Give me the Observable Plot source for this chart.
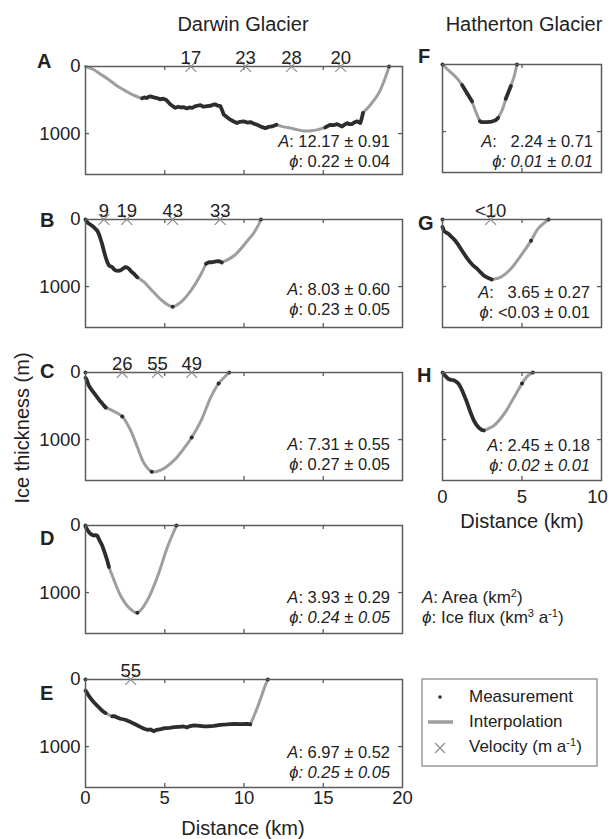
<!DOCTYPE html>
<html><head><meta charset="utf-8">
<script src="https://cdn.jsdelivr.net/npm/d3@7"></script>
<script src="https://cdn.jsdelivr.net/npm/@observablehq/plot@0.6"></script>
<style>
body{margin:0;background:#fff;}
#root{position:relative;width:608px;height:839px;overflow:hidden;background:#fff;font-family:"Liberation Sans",Arial,sans-serif;}
.pn{position:absolute;}
.pn svg{overflow:visible;background:transparent;}
</style></head><body><div id="root"></div>
<script>
// ---------- data (distance km, ice thickness m) ----------
// kind: "m" = measurement (dense radar), "i" = interpolation
const profileA = [
  {kind:"i", pts:[[0,0],[0.5,45],[0.95,115],[1.5,200],[2.0,290],[2.5,360],[3.06,430],[3.57,475]]},
  {kind:"m", pts:[[3.57,475],[3.7,460],[3.85,470],[3.95,455],[4.1,445],[4.3,460],[4.5,470],[4.73,490],[4.9,480],[5.1,500],[5.36,566],[5.5,590],[5.67,616],[5.85,600],[6.0,610],[6.2,606],[6.4,625],[6.55,610],[6.73,616],[6.9,595],[7.05,585],[7.25,576],[7.45,600],[7.67,591],[7.9,585],[8.05,570],[8.2,566],[8.35,585],[8.51,591],[8.6,640],[8.72,717],[8.9,750],[9.14,793],[9.35,820],[9.56,843],[9.75,825],[9.98,818],[10.2,835],[10.4,828],[10.6,850],[10.83,869],[11.1,900],[11.35,919],[11.55,900],[11.77,894],[12.04,869]]},
  {kind:"i", pts:[[12.04,869],[12.5,900],[12.93,919],[13.4,945],[13.76,960],[14.2,958],[14.6,945],[15.13,909]]},
  {kind:"m", pts:[[15.13,909],[15.3,885],[15.45,869],[15.65,875],[15.87,859],[16.05,880],[16.19,894],[16.35,865],[16.5,843],[16.65,860],[16.82,859],[16.95,835],[17.13,818],[17.25,830],[17.34,843],[17.42,780],[17.51,692]]},
  {kind:"i", pts:[[17.51,692],[17.8,620],[18.0,565],[18.46,415],[18.88,190],[19.15,0]]}
];
const dotsA = [[19.15,0]];
const velKmA = [6.65,10.1,13.0,16.1];
const velA = ["17","23","28","20"];

const profileB = [
  {kind:"m", pts:[[0.06,25],[0.15,50],[0.3,75],[0.45,100],[0.63,140],[0.75,170],[0.84,215],[0.95,290],[1.05,365],[1.15,460],[1.27,560],[1.38,640],[1.48,685],[1.6,700],[1.69,710],[1.8,745],[1.9,760],[2.05,765],[2.2,760],[2.35,735],[2.5,710],[2.62,715],[2.74,735],[2.9,780],[3.06,810],[3.17,840],[3.27,860]]},
  {kind:"i", pts:[[3.27,860],[3.7,935],[4.3,1085],[4.96,1235],[5.5,1300],[6.0,1235],[6.65,1060],[7.3,810],[7.6,660]]},
  {kind:"m", pts:[[7.6,660],[7.8,635],[7.95,640],[8.1,630],[8.25,625],[8.4,620],[8.6,640]]},
  {kind:"i", pts:[[8.6,640],[9.39,537],[10.23,313],[10.65,190],[11.07,0]]}
];
const dotsB = [[0,0],[5.5,1300],[11.07,0]];
const velKmB = [1.16,2.6,5.5,8.5];
const velB = ["9","19","43","33"];

const profileC = [
  {kind:"m", pts:[[0,80],[0.06,100],[0.2,190],[0.3,230],[0.42,270],[0.58,320],[0.74,370],[0.9,420],[1.05,460],[1.15,490],[1.27,520]]},
  {kind:"i", pts:[[1.27,520],[1.8,580],[2.32,655],[2.85,865],[3.27,1110],[3.7,1355],[4.18,1480],[4.75,1455],[5.6,1305],[6.2,1135],[6.7,970],[7.3,715],[7.9,370],[8.4,165],[9.07,0]]}
];
const dotsC = [[0,0],[1.27,520],[2.32,655],[4.18,1480],[6.7,970],[8.4,165],[9.07,0]];
const velKmC = [2.32,4.54,6.7];
const velC = ["26","55","49"];

const profileD = [
  {kind:"m", pts:[[0,15],[0.08,50],[0.15,75],[0.25,110],[0.32,125],[0.42,140],[0.53,150],[0.64,145],[0.74,150],[0.84,200],[0.95,250],[1.05,295],[1.16,370],[1.27,445],[1.38,530],[1.48,620]]},
  {kind:"i", pts:[[1.48,620],[1.8,815],[2.2,1040],[2.74,1225],[3.27,1300],[3.9,1115],[4.54,765],[5.17,320],[5.74,0]]}
];
const dotsD = [[0,0],[3.27,1300],[5.74,0]];
const velKmD = [];
const velD = [];

const profileE = [
  {kind:"m", pts:[[0,165],[0.1,200],[0.2,240],[0.35,290],[0.53,340],[0.75,395],[0.95,440],[1.1,475],[1.27,500]]},
  {kind:"i", pts:[[1.27,500],[1.5,530],[1.69,550]]},
  {kind:"m", pts:[[1.69,550],[1.8,545],[2.0,565],[2.2,585],[2.5,600],[2.85,635],[3.2,675],[3.48,710],[3.7,735],[3.9,750],[4.1,745],[4.3,770],[4.5,750],[4.75,740],[5.0,725],[5.3,720],[5.6,710],[5.9,705],[6.2,700],[6.4,715],[6.6,695],[6.85,685],[7.2,690],[7.5,700],[7.7,700],[8.1,690],[8.5,675],[8.9,670],[9.4,660],[9.8,665],[10.2,660],[10.4,670]]},
  {kind:"i", pts:[[10.4,670],[10.6,560],[10.85,415],[11.1,250],[11.3,115],[11.5,0]]}
];
const dotsE = [[0,0],[11.5,0]];
const velKmE = [2.85];
const velE = ["55"];

const profileF = [
  {kind:"i", pts:[[0,0],[0.35,80],[0.7,155],[1.0,230],[1.23,305]]},
  {kind:"m", pts:[[1.23,305],[1.45,390],[1.65,470],[1.86,550]]},
  {kind:"i", pts:[[1.86,550],[2.08,695],[2.35,845]]},
  {kind:"m", pts:[[2.35,845],[2.45,860],[2.8,860],[3.1,850],[3.35,830],[3.5,795]]},
  {kind:"i", pts:[[3.5,795],[3.77,670],[3.98,510]]},
  {kind:"m", pts:[[3.98,510],[4.15,410],[4.3,320]]},
  {kind:"i", pts:[[4.3,320],[4.5,180],[4.68,0]]}
];
const dotsF = [[0,0],[4.68,0]];
const velKmF = [];
const velF = [];

const profileG = [
  {kind:"m", pts:[[0,110],[0.1,175],[0.2,190],[0.38,215],[0.6,265],[0.8,315],[1.0,380],[1.23,465],[1.45,545],[1.65,610],[1.9,680],[2.18,735],[2.4,790],[2.6,835],[2.85,870],[3.1,895]]},
  {kind:"i", pts:[[3.1,895],[3.67,860],[4.3,735],[4.94,535],[5.57,315],[6.0,140],[6.67,0]]}
];
const dotsG = [[0,0],[5.57,315],[6.67,0]];
const velKmG = [3.03];
const velG = ["<10"];

const profileH = [
  {kind:"m", pts:[[0,0],[0.17,50],[0.38,100],[0.55,110],[0.7,115],[0.85,135],[1.02,170],[1.18,240],[1.33,320],[1.5,420],[1.65,520],[1.8,620],[1.97,715],[2.13,780],[2.29,825],[2.45,855],[2.6,865]]},
  {kind:"i", pts:[[2.6,865],[3.24,790],[3.88,615],[4.5,370],[5.0,165],[5.36,50],[5.68,0]]}
];
const dotsH = [[5.0,165],[5.68,0]];
const velKmH = [];
const velH = [];

const panelLetters = ["A","B","C","D","E","F","G","H"];
const areaText = ["12.17 ± 0.91","8.03 ± 0.60","7.31 ± 0.55","3.93 ± 0.29","6.97 ± 0.52","  2.24 ± 0.71","  3.65 ± 0.27","2.45 ± 0.18"];
const fluxText = ["0.22 ± 0.04","0.23 ± 0.05","0.27 ± 0.05","0.24 ± 0.05","0.25 ± 0.05","0.01 ± 0.01","<0.03 ± 0.01","0.02 ± 0.01"];
const fluxItalic = [false,false,false,true,true,true,false,true];
const yTickLabels = [0,1000];
const xTicksDarwin = [0,5,10,15,20];
const xTicksHatherton = [0,5];
const xTicksHathertonEnd = [10];

// ---------- layout ----------
const FONT = '"Liberation Sans", Arial, sans-serif';
const INNER_H = 108;
const LEFT = {svgLeft:25, mL:60, mR:8, frameW:317, xMax:20, inner:[5,10,15]};
const RIGHT = {svgLeft:430, mL:12, mR:7, frameW:159, xMax:10, inner:[5]};
const panels = [
  {col:LEFT, top:65.7, prof:profileA, dots:dotsA, vk:velKmA, vl:velA, yLab:true},
  {col:LEFT, top:219, prof:profileB, dots:dotsB, vk:velKmB, vl:velB, yLab:true},
  {col:LEFT, top:371.7, prof:profileC, dots:dotsC, vk:velKmC, vl:velC, yLab:true},
  {col:LEFT, top:525, prof:profileD, dots:dotsD, vk:velKmD, vl:velD, yLab:true},
  {col:LEFT, top:679, prof:profileE, dots:dotsE, vk:velKmE, vl:velE, yLab:true, xTicks:xTicksDarwin, xPad:3},
  {col:RIGHT, top:64.3, prof:profileF, dots:dotsF, vk:velKmF, vl:velF, yLab:false},
  {col:RIGHT, top:219, prof:profileG, dots:dotsG, vk:velKmG, vl:velG, yLab:false},
  {col:RIGHT, top:371.7, prof:profileH, dots:dotsH, vk:velKmH, vl:velH, yLab:false, xTicks:xTicksHatherton, xTicksEnd:xTicksHathertonEnd, xPad:9.5}
];

const root = document.getElementById("root");
const FRAME = "#5c5c5c";

panels.forEach(p => {
  const c = p.col;
  const mT = 30, mB = p.xTicks ? 30 : 4;
  const width = c.mL + c.frameW + c.mR;
  const data = [];
  p.prof.forEach((s, i) => s.pts.forEach(([x, y]) => data.push({x, y, seg: i, kind: s.kind})));
  const vel = p.vk.map((k, i) => ({km: k, label: p.vl[i]}));
  const marks = [
    Plot.line(data.filter(d => d.kind === "i"), {x:"x", y:"y", z:"seg", stroke:"#9e9e9e", strokeWidth:3, curve:"catmull-rom"}),
    Plot.line(data.filter(d => d.kind === "m"), {x:"x", y:"y", z:"seg", stroke:"#2d2d2d", strokeWidth:3.8, strokeLinejoin:"round", strokeLinecap:"round"}),
    Plot.dot(p.dots, {x: d => d[0], y: d => d[1], r: 2, fill:"#2d2d2d"}),
    Plot.frame({stroke: FRAME, strokeWidth: 1.5}),
    Plot.tickX(c.inner, {x: d => d, insetBottom: INNER_H - 4, stroke: FRAME, strokeWidth: 1.3}),
    Plot.tickX(c.inner, {x: d => d, insetTop: INNER_H - 4, stroke: FRAME, strokeWidth: 1.3}),
    Plot.tickY([1000], {y: d => d, insetRight: c.frameW - 4, stroke: FRAME, strokeWidth: 1.3}),
    Plot.tickY([1000], {y: d => d, insetLeft: c.frameW - 4, stroke: FRAME, strokeWidth: 1.3}),
    Plot.dot(vel, {x:"km", y: d => 0, symbol:"times", r:5, stroke:"#8c8c8c", strokeWidth:1.2}),
    Plot.text(vel, {x:"km", y: d => 0, text:"label", lineAnchor:"bottom", dy:-3, fontSize:18.5, fill:"#222"})
  ];
  if (p.yLab) marks.push(Plot.axisY(yTickLabels, {anchor:"left", tickSize:0, tickPadding:5, tickFormat:"d", fontSize:18.5, label:null, color:"#222"}));
  if (p.xTicks) marks.push(Plot.axisX(p.xTicks, {anchor:"bottom", tickSize:0, tickPadding:p.xPad, tickFormat:"d", fontSize:18.5, label:null, color:"#222"}));
  if (p.xTicksEnd) marks.push(Plot.axisX(p.xTicksEnd, {anchor:"bottom", tickSize:0, tickPadding:p.xPad, tickFormat:"d", fontSize:18.5, label:null, color:"#222", dx:-4}));
  const chart = Plot.plot({
    width, height: mT + INNER_H + mB,
    marginLeft: c.mL, marginRight: c.mR, marginTop: mT, marginBottom: mB,
    x: {domain:[0, c.xMax], axis: p.xTicks ? undefined : null},
    y: {domain:[0, 1610], reverse: true, axis: p.yLab ? undefined : null},
    style: {fontFamily: FONT, fontSize: "18.5px", color: "#222", background: "transparent", overflow: "visible"},
    marks
  });
  const div = document.createElement("div");
  div.className = "pn";
  div.style.left = c.svgLeft + "px";
  div.style.top = (p.top - mT) + "px";
  div.style.width = width + "px";
  div.appendChild(chart);
  root.appendChild(div);
});

// ---------- text overlay ----------
const ov = d3.select(root).append("svg")
  .attr("width", 608).attr("height", 839)
  .style("position", "absolute").style("left", 0).style("top", 0)
  .style("font-family", FONT).style("fill", "#222").style("white-space", "pre")
  .style("pointer-events", "none");

// parts: string, or [string, italic, dy, small]
function txt(x, y, parts, {anchor = "start", size = 16.5, weight = "normal"} = {}) {
  const t = ov.append("text").attr("x", x).attr("y", y).attr("text-anchor", anchor)
    .attr("font-size", size).attr("font-weight", weight).attr("xml:space", "preserve");
  parts.forEach(pt => {
    const [s, it, dy, small] = Array.isArray(pt) ? pt : [pt, false, 0, false];
    const ts = t.append("tspan").text(s);
    if (it) ts.attr("font-style", "italic");
    if (dy) ts.attr("dy", dy);
    if (small) ts.attr("font-size", size * 0.65);
  });
  return t;
}

txt(243, 31, ["Darwin Glacier"], {anchor:"middle", size:20});
txt(524, 31, ["Hatherton Glacier"], {anchor:"middle", size:20});
ov.append("text").attr("transform", "translate(29,428) rotate(-90)").attr("text-anchor", "middle")
  .attr("font-size", 20).text("Ice thickness (m)");
txt(243, 835, ["Distance (km)"], {anchor:"middle", size:20});
txt(522, 528, ["Distance (km)"], {anchor:"middle", size:20});

const letterPos = [[37,68],[40,227],[40,378],[40,545],[40,700],[418,63],[418,230],[417,382]];
letterPos.forEach(([x, y], i) => txt(x, y, [panelLetters[i]], {size:20, weight:"bold"}));

const annoPos = [[390,147],[390,295],[390,450],[390,603],[390,758],[593,147],[590,298],[590,451]];
annoPos.forEach(([x, y], i) => {
  txt(x, y, [["A", true], ": " + areaText[i]], {anchor:"end"});
  txt(x, y + 20, [["ϕ", true], [": " + fluxText[i], fluxItalic[i]]], {anchor:"end"});
});

// definitions
txt(422, 603, [["A", true], ": Area (km", ["2", false, -6, true], [")", false, 6, false]], {size:17});
txt(422, 623, [["ϕ", true], ": Ice flux (km", ["3", false, -6, true], [" a", false, 6, false], ["-1", false, -6, true], [")", false, 6, false]], {size:17});

// legend
ov.append("rect").attr("x", 422).attr("y", 679).attr("width", 175).attr("height", 87)
  .attr("fill", "none").attr("stroke", "#8a8a8a").attr("stroke-width", 1.3);
ov.append("circle").attr("cx", 440).attr("cy", 697).attr("r", 1.8).attr("fill", "#2d2d2d");
ov.append("line").attr("x1", 428).attr("x2", 453).attr("y1", 722).attr("y2", 722)
  .attr("stroke", "#9e9e9e").attr("stroke-width", 3.5);
ov.append("path").attr("d", "M435,743L445,753M435,753L445,743").attr("stroke", "#8c8c8c").attr("stroke-width", 1.2);
txt(469, 702, ["Measurement"], {size:17});
txt(469, 727, ["Interpolation"], {size:17});
txt(469, 752, ["Velocity (m a", ["-1", false, -6, true], [")", false, 6, false]], {size:17});
</script></body></html>
